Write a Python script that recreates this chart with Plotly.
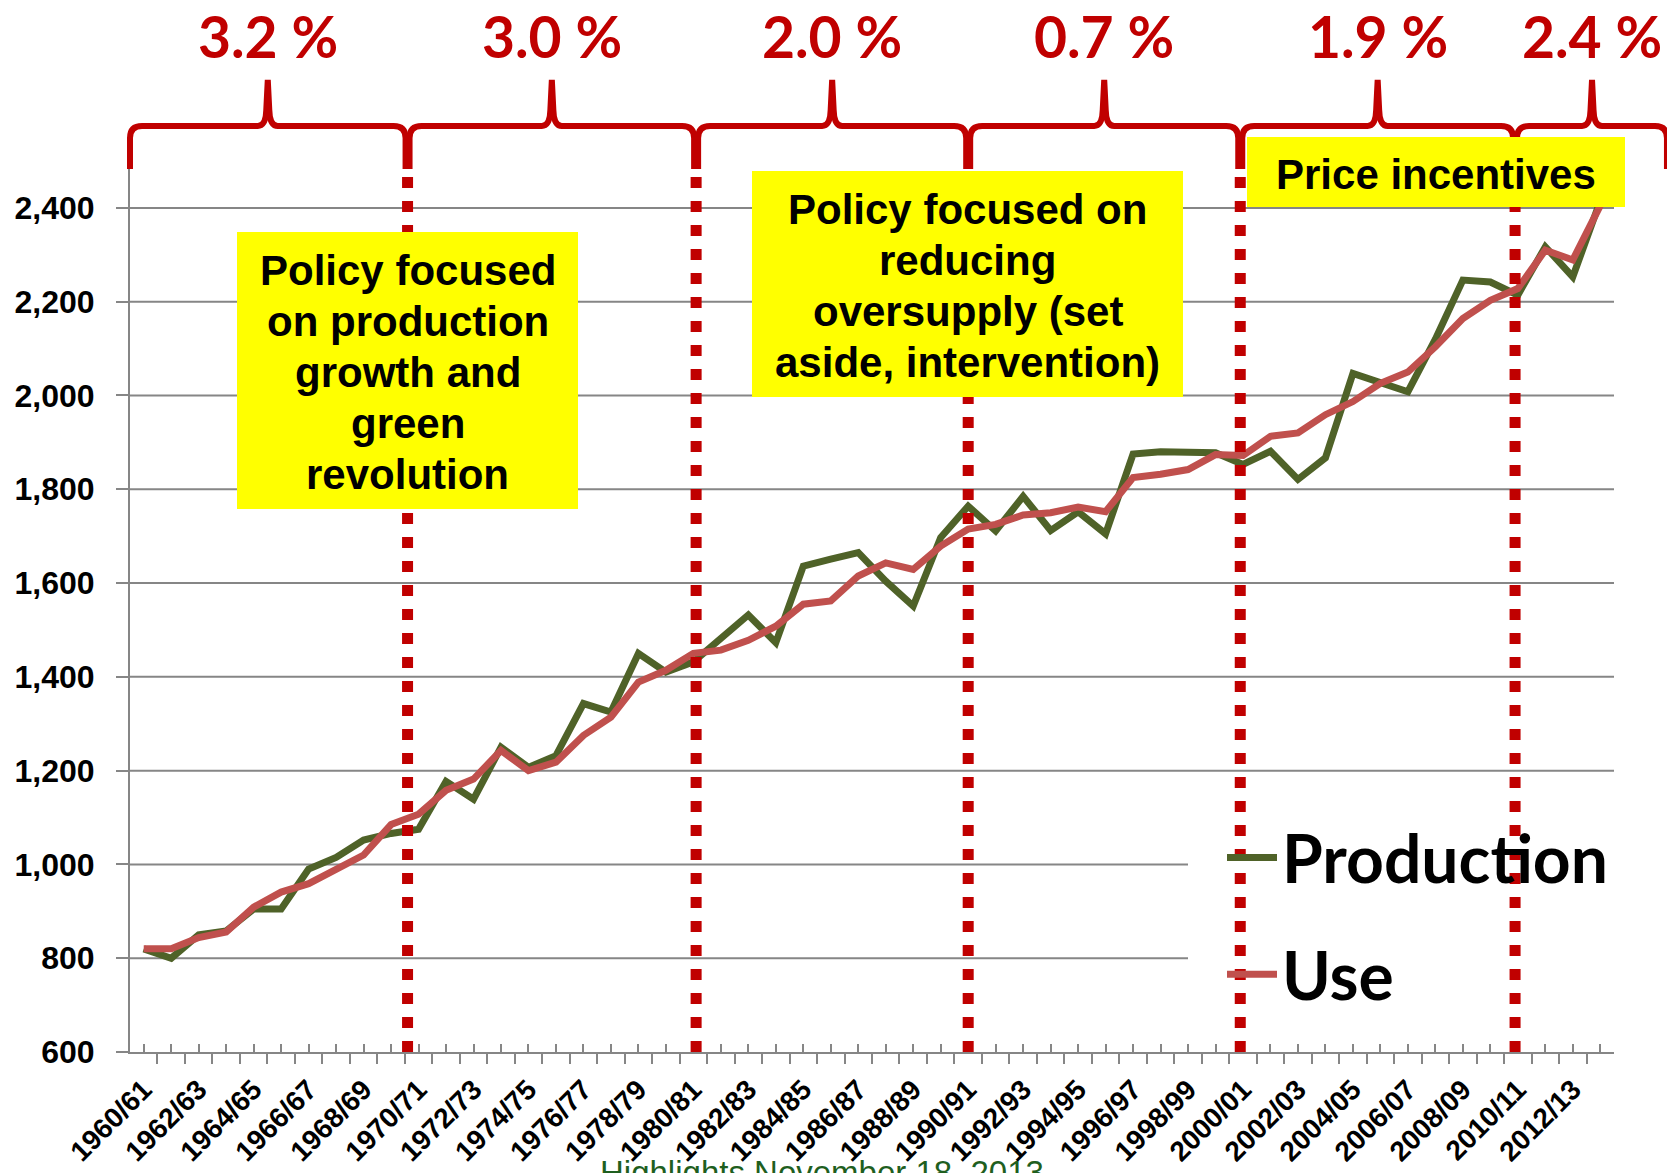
import plotly.graph_objects as go

# ---------------- data ----------------
seasons = ["1960/61", "1961/62", "1962/63", "1963/64", "1964/65", "1965/66", "1966/67", "1967/68",
           "1968/69", "1969/70", "1970/71", "1971/72", "1972/73", "1973/74", "1974/75", "1975/76",
           "1976/77", "1977/78", "1978/79", "1979/80", "1980/81", "1981/82", "1982/83", "1983/84",
           "1984/85", "1985/86", "1986/87", "1987/88", "1988/89", "1989/90", "1990/91", "1991/92",
           "1992/93", "1993/94", "1994/95", "1995/96", "1996/97", "1997/98", "1998/99", "1999/00",
           "2000/01", "2001/02", "2002/03", "2003/04", "2004/05", "2005/06", "2006/07", "2007/08",
           "2008/09", "2009/10", "2010/11", "2011/12", "2012/13", "2013/14"]

production = [820, 800, 850, 858, 905, 905, 990, 1015, 1052, 1066,
              1075, 1177, 1139, 1250, 1207, 1232, 1343, 1325, 1450, 1410,
              1432, 1482, 1532, 1473, 1636, 1651, 1665, 1604, 1551, 1697,
              1764, 1711, 1785, 1712, 1752, 1705, 1875, 1880, 1880, 1878,
              1853, 1881, 1821, 1867, 2047, 2026, 2008, 2120, 2246, 2242,
              2214, 2317, 2253, 2415]

use = [820, 820, 844, 856, 909, 941, 959, 988, 1020, 1085,
       1107, 1158, 1182, 1243, 1200, 1218, 1275, 1314, 1389, 1414,
       1450, 1457, 1478, 1508, 1555, 1562, 1615, 1643, 1629, 1679,
       1715, 1725, 1745, 1750, 1762, 1752, 1825, 1832, 1842, 1874,
       1872, 1913, 1920, 1959, 1987, 2026, 2050, 2104, 2164, 2203,
       2228, 2310, 2289, 2405]

y_ticks = [600, 800, 1000, 1200, 1400, 1600, 1800, 2000, 2200, 2400]

# period boundaries (category index positions) and growth rates
period_edges = [-0.5, 9.6, 20.1, 30.0, 39.9, 49.9, 55.5]
growth_labels = ["3.2 %", "3.0 %", "2.0 %", "0.7 %", "1.9 %", "2.4 %"]
divider_positions = [9.6, 20.1, 30.0, 39.9, 49.9]

box1_lines = ["Policy focused", "on production", "growth and", "green", "revolution"]
box2_lines = ["Policy focused on", "reducing", "oversupply (set", "aside, intervention)"]
box3_lines = ["Price incentives"]

# ---------------- layout geometry (page pixels) ----------------
PAGE_W, PAGE_H = 1675, 1173
OFF = 8                      # default body margin of the page
W, H = PAGE_W - OFF, PAGE_H - OFF
L, R, T, B = 130, 1614, 161, 1052   # plot area in page pixels
N = len(seasons)
CW = (R - L) / N

def px_x(p):
    return (p - L) / (R - L)

def px_y(p):
    return (B - p) / (B - T)

def idx_px(v):
    return L + (v + 0.5) * CW

RED = "#C00000"
GRID = "#868686"

x_idx = list(range(N))

fig = go.Figure()
fig.add_trace(go.Scatter(x=x_idx, y=production, mode="lines", name="Production",
                         legendgroup="p",
                         line=dict(color="#4F6228", width=7)))
fig.add_trace(go.Scatter(x=x_idx, y=use, mode="lines", name="Use",
                         legendgroup="u",
                         line=dict(color="#C0504D", width=7)))

shapes = []
# gridlines (the lower ones stop at the legend box)
for v in y_ticks[1:]:
    x1 = px_x(1188) if v < 1100 else 1
    shapes.append(dict(type="line", xref="paper", yref="y", x0=0, x1=x1, y0=v, y1=v,
                       line=dict(color=GRID, width=2), layer="below"))

# dotted dividers
for d in divider_positions:
    shapes.append(dict(type="line", xref="x", yref="paper", x0=d, x1=d, y0=0, y1=px_y(169),
                       line=dict(color=RED, width=11, dash="11px,13px"), layer="above"))

# braces
def brace_path(xa, xb):
    xm = (xa + xb) / 2
    ybar, yend, ytip, r = 126, 169, 80, 12
    pts = [("M", xa, yend), ("L", xa, ybar + r), ("Q", xa, ybar, xa + r, ybar),
           ("L", xm - 10, ybar), ("Q", xm - 2, ybar, xm - 1.5, ybar - 16),
           ("L", xm, ytip), ("L", xm + 1.5, ybar - 16), ("Q", xm + 2, ybar, xm + 10, ybar),
           ("L", xb - r, ybar), ("Q", xb, ybar, xb, ybar + r), ("L", xb, yend)]
    s = ""
    for p in pts:
        cmd = p[0]
        coords = p[1:]
        parts = []
        for k in range(0, len(coords), 2):
            parts.append(f"{px_x(coords[k]):.5f},{px_y(coords[k+1]):.5f}")
        s += cmd + " ".join(parts) + " "
    return s.strip()

annotations = []
for k, lab in enumerate(growth_labels):
    xa = idx_px(period_edges[k]) + (2 if k > 0 else 0)
    xb = idx_px(period_edges[k + 1]) - 2
    shapes.append(dict(type="path", xref="paper", yref="paper", path=brace_path(xa, xb),
                       line=dict(color=RED, width=6), layer="above"))
    annotations.append(dict(text=lab, xref="paper", yref="paper", x=px_x((xa + xb) / 2), y=px_y(36),
                            xanchor="center", yanchor="middle", showarrow=False,
                            height=56, borderpad=0, valign="middle",
                            font=dict(family="Lato", size=57, color=RED, weight="bold")))

# yellow text boxes: (lines, left, top, right, bottom) in page pixels
LINE_GAP = 51
boxes = [(box1_lines, 237, 232, 578, 509),
         (box2_lines, 752, 171, 1183, 397),
         (box3_lines, 1247, 137, 1625, 207)]
for lines, x0, y0, x1, y1 in boxes:
    shapes.append(dict(type="rect", xref="paper", yref="paper",
                       x0=px_x(x0), x1=px_x(x1), y0=px_y(y1), y1=px_y(y0),
                       fillcolor="#FFFF00", line=dict(width=0), layer="above"))
    yc = (y0 + y1) / 2
    n = len(lines)
    for j, line_txt in enumerate(lines):
        ly = yc + (j - (n - 1) / 2) * LINE_GAP + 2
        annotations.append(dict(text=line_txt, xref="paper", yref="paper",
                                x=px_x((x0 + x1) / 2), y=px_y(ly),
                                xanchor="center", yanchor="middle", showarrow=False,
                                font=dict(family="Liberation Sans", size=42, color="#000000",
                                          weight="bold")))

# footer text (partly cut off at the bottom, as in the source slide)
annotations.append(dict(text="Highlights November 18, 2013", xref="paper", yref="paper",
                        x=px_x(598), y=px_y(1152), xanchor="left", yanchor="top",
                        showarrow=False,
                        font=dict(family="Liberation Sans", size=33, color="#1F5F1F")))

fig.update_layout(
    width=W, height=H, autosize=False,
    margin=dict(l=L - OFF, r=PAGE_W - R, t=T - OFF, b=PAGE_H - B, pad=0),
    paper_bgcolor="white", plot_bgcolor="white",
    showlegend=True,
    legend=dict(x=px_x(1222), y=px_y(808), xanchor="left", yanchor="top",
                bgcolor="rgba(0,0,0,0)", borderwidth=0, tracegroupgap=28, itemwidth=50,
                font=dict(family="Lato", size=66, color="#000000", weight="bold")),
    shapes=shapes,
    annotations=annotations,
    xaxis=dict(range=[-0.5, N - 0.5], tickmode="array", tickvals=x_idx, automargin=False,
               ticktext=[s if i % 2 == 0 else "" for i, s in enumerate(seasons)],
               tickangle=-45, ticks="inside", ticklen=8, tickwidth=2, tickcolor=GRID,
               showline=True, linecolor=GRID, linewidth=2, showgrid=False, zeroline=False,
               ticklabelstandoff=8,
               tickfont=dict(family="Liberation Sans", size=28, color="#000000", weight="bold"),
               minor=dict(tickmode="array", tickvals=[i - 0.5 for i in range(N + 1)],
                          ticks="outside", ticklen=10, tickwidth=2, tickcolor=GRID,
                          showgrid=False)),
    yaxis=dict(range=[600, 2500], tickmode="array", tickvals=y_ticks, tickformat=",",
               automargin=False,
               ticks="outside", ticklen=12, tickwidth=2, tickcolor=GRID,
               showline=True, linecolor=GRID, linewidth=2, showgrid=False, zeroline=False,
               ticklabelstandoff=15,
               tickfont=dict(family="Liberation Sans", size=32, color="#000000", weight="bold")),
)

fig.write_html("out.html")
